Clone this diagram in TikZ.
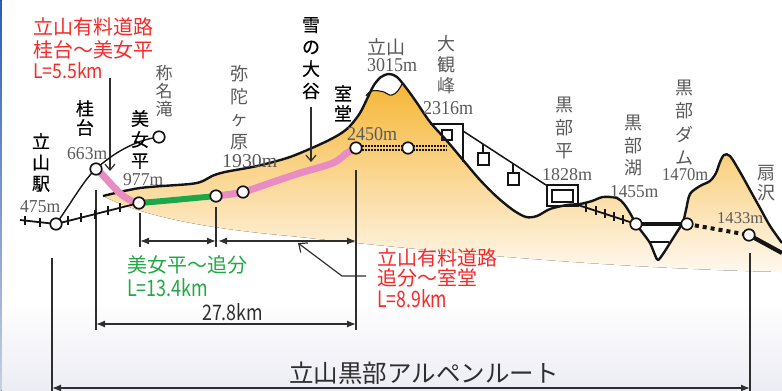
\documentclass[tikz,border=0pt]{standalone}
\usepackage{fontspec}
\setmainfont{Liberation Serif}
\newfontfamily\jp{Noto Sans CJK JP}
\newfontfamily\jpb{Noto Sans CJK JP}[FakeBold=0.35]
\usetikzlibrary{arrows.meta,calc}

\definecolor{inkred}{HTML}{F52A2A}
\definecolor{inkgreen}{HTML}{22A845}
\definecolor{roadgreen}{HTML}{1BA84A}
\definecolor{roadpink}{HTML}{E98CC2}
\definecolor{labgray}{HTML}{5A5A5A}
\definecolor{dimgray}{HTML}{2E2E2E}
\definecolor{ridgeblack}{HTML}{151515}
\definecolor{hilltop}{HTML}{F5B32C}
\definecolor{hillmid}{HTML}{FBDAA8}
\definecolor{hillbot}{HTML}{FFF8F0}
\definecolor{bgbot}{HTML}{ECECF4}
\definecolor{edgeblue}{HTML}{2A5CB8}
\definecolor{edgegray}{HTML}{C8D0E0}

% mountain ridge profile, west to east
\newcommand\ridge{plot[smooth,tension=0.5] coordinates {(103,196) (140,188) (190,184) (203,181) (212,176) (225,172) (257,166) (290,157) (323,143) (340,134) (350,126) (360,113) (367,99) (374,85) (381,77) (389,74) (397,77) (407,89) (417,103) (430,122) (447,141) (463,160) (480,180) (497,197) (513,210) (526,217) (537,216) (550,209) (567,205) (580,204) (592,201) (603,197) (617,198) (624,204) (630,213) (636,224) (642,232) (650,243) (655,255) (658,260) (663,254) (670,243) (677,232) (683,222) (686,210) (690,194) (700,186) (710,181) (716,173) (720,162) (724,155) (730,156) (740,172) (750,190) (760,208) (770,226) (782,243)}}

% elevation figure with fixed ink size: text, width, height
\newcommand\elv[3]{\resizebox{#2pt}{#3pt}{#1}}
% half-width Latin text in the gothic face: text, width, height
\newcommand\hw[3]{\resizebox{#2pt}{#3pt}{\jp #1}}

\begin{document}
\begin{tikzpicture}[x=1pt,y=-1pt,
  stn/.style={circle,draw=ridgeblack,fill=white,line width=1.7pt,minimum size=11.5pt,inner sep=0pt},
  elev/.style={anchor=north west,inner sep=0pt,text=labgray},
  blk/.style={font=\jpb\fontsize{18}{21}\selectfont,align=center,anchor=north,inner sep=0pt,text=black},
  gry/.style={font=\jp\fontsize{18}{22}\selectfont,align=center,anchor=north,inner sep=0pt,text=labgray},
  redtxt/.style={font=\jp\fontsize{20}{23}\selectfont,align=left,anchor=north west,inner sep=0pt,text=inkred},
  grntxt/.style={font=\jp\fontsize{20}{23}\selectfont,align=left,anchor=north west,inner sep=0pt,text=inkgreen},
  dim/.style={draw=dimgray,line width=1.3pt},
  dimarrow/.style={dim,{Latex[length=9pt,width=7pt]}-{Latex[length=9pt,width=7pt]}},
  pointer/.style={draw=dimgray,line width=1.2pt,-{Straight Barb[length=6pt,width=10pt]}},
  road/.style={draw=ridgeblack,line width=1.4pt},
  rail/.style={draw=ridgeblack,line width=1.8pt},
  pinkroad/.style={draw=roadpink,line width=7pt,line cap=round},
  greenroad/.style={draw=roadgreen,line width=6pt},
  bus/.style={draw=ridgeblack,line width=4.2pt},
  busdots/.style={draw=ridgeblack,line width=4pt,dash pattern=on 4pt off 4pt},
  tunneldots/.style={draw=ridgeblack,line width=1.7pt,dash pattern=on 1.6pt off 1.4pt},
  hut/.style={draw=ridgeblack,line width=2pt},
]
\useasboundingbox (0,0) rectangle (782,391);

% background
\fill[white] (0,0) rectangle (782,391);
\fill[top color=white,bottom color=bgbot] (0,300) rectangle (782,391);
\fill[top color=edgeblue,bottom color=edgegray] (0,0) rectangle (1.6,391);

% hill body
\fill[top color=hilltop,middle color=hillmid,bottom color=hillbot]
  \ridge -- (782,272) .. controls (600,268) and (420,250) .. (290,236)
  .. controls (200,228) and (140,215) .. (103,196) -- cycle;
% snow on the summit
\fill[white] (366,96) -- (374,84) -- (381,77) -- (389,74) -- (397,77) -- (402,84)
  .. controls (399,90) and (396,94) .. (392,95) .. controls (389,96) and (387,93) .. (384,92)
  .. controls (380,91) and (376,90) .. (372,91) -- cycle;
\draw[ridgeblack,line width=1.1pt] (366,96) .. controls (368,93) and (370,91) .. (372,91)
  .. controls (376,90) and (380,91) .. (384,92) .. controls (387,93) and (389,96) .. (392,95)
  .. controls (396,94) and (399,90) .. (402,84);
\draw[ridgeblack,line width=2.4pt,line join=round] \ridge;

% key points
\coordinate (pRailW) at (20,220);
\coordinate (pTateyama) at (56,224);
\coordinate (pKatsura) at (96,169);
\coordinate (pShomyo) at (159,137);
\coordinate (pBijo) at (139,203);
\coordinate (pOiwake) at (216,196);
\coordinate (pMida) at (243,192);
\coordinate (pMuro) at (356,148);
\coordinate (pTunnel) at (408,148);
\coordinate (pTunnelE) at (447,148);
\coordinate (pRopeA) at (463,131);
\coordinate (pRopeB) at (546,185);
\coordinate (pKbdStn) at (578,205);
\coordinate (pLake) at (636,224);
\coordinate (pDam) at (687,224);
\coordinate (pOgi) at (749,235);
\coordinate (pEast) at (782,253);

% Daikanbo station and ropeway
\draw[hut,line join=miter] (430,124) -- (463,124) -- (463,162);
\draw[hut,line width=1.6pt] (442,130) rectangle (452,140);
\draw[ridgeblack,line width=1.5pt] (pRopeA) -- (pRopeB);
\draw[ridgeblack,line width=1.4pt] ($(pRopeA)!0.24!(pRopeB)$) -- ++(0,10);
\draw[hut,line width=1.6pt] (478,153) rectangle (489,165);
\draw[ridgeblack,line width=1.4pt] ($(pRopeA)!0.6!(pRopeB)$) -- ++(0,9);
\draw[hut,line width=1.6pt] (508,173) rectangle (519,185);
% Kurobedaira station
\draw[hut] (547,185) rectangle (578,206);
\draw[hut,line width=1.6pt] (552,190) rectangle (573,202);

% dimension lines
\coordinate (dA0) at (52,258);   \coordinate (dA1) at (52,391);
\coordinate (dB0) at (96,190);   \coordinate (dB1) at (96,330);
\coordinate (dC0) at (140,213);  \coordinate (dC1) at (140,247);
\coordinate (dD0) at (216,207);  \coordinate (dD1) at (216,247);
\coordinate (dE0) at (356,170);  \coordinate (dE1) at (356,330);
\coordinate (dF0) at (750,253);  \coordinate (dF1) at (750,391);
\draw[dim] (dA0) -- (dA1);
\draw[dim] (dB0) -- (dB1);
\draw[dim] (dC0) -- (dC1);
\draw[dim] (dD0) -- (dD1);
\draw[dim] (dE0) -- (dE1);
\draw[dim] (dF0) -- (dF1);
\coordinate (aC) at (140,241); \coordinate (aD) at (216,241);
\coordinate (aD2) at (218,241); \coordinate (aE) at (356,241);
\coordinate (aB) at (96,324); \coordinate (aE2) at (356,324);
\coordinate (aA) at (52,388); \coordinate (aF) at (750,388);
\draw[dimarrow] (aC) -- (aD);
\draw[dimarrow] (aD2) -- (aE);
\draw[dimarrow] (aB) -- (aE2);
\draw[dimarrow] (aA) -- (aF);

% leader from the Oiwake–Murodo toll road label
\coordinate (lA) at (366,276);
\coordinate (lB) at (342,276);
\coordinate (lC) at (298,243);
\draw[dim,line width=1.2pt,-{Straight Barb[length=7pt,width=12pt]}] (lA) -- (lB) -- (lC);
% pointers
\coordinate (ptA0) at (110,78);  \coordinate (ptA1) at (110,171);
\coordinate (ptB0) at (311,107); \coordinate (ptB1) at (311,162);
\draw[pointer] (ptA0) -- (ptA1);
\draw[pointer] (ptB0) -- (ptB1);

% roads
\draw[road] (pTateyama) .. controls (70,205) and (85,178) .. (pKatsura);
\draw[road] (pKatsura) .. controls (112,154) and (135,140) .. (pShomyo);
\draw[pinkroad] (pKatsura) .. controls (110,180) and (120,200) .. (pBijo);
\draw[pinkroad] plot[smooth,tension=0.5] coordinates {(pOiwake) (pMida) (273,182) (300,173) (333,163) (347,153) (pMuro)};
\draw[greenroad] (pBijo) .. controls (165,201) and (195,198) .. (pOiwake);

% railway and cable cars
\draw[rail] (pRailW) -- (pTateyama) -- (pBijo);
\foreach \t in {0.14,0.56}
  \draw[rail] ($(pRailW)!\t!(pTateyama)$) +(0,-4.5) -- +(0,4.5);
\foreach \t in {0.145,0.30,0.47,0.627,0.771}
  \draw[rail] ($(pTateyama)!\t!(pBijo)$) +(0,-4.5) -- +(0,4.5);
\draw[rail] (pKbdStn) -- (pLake);
\foreach \t in {0.14,0.31,0.47,0.62,0.78}
  \draw[rail] ($(pKbdStn)!\t!(pLake)$) +(0,-4.5) -- +(0,4.5);

% trolley bus tunnels
\draw[tunneldots] ([yshift=2pt]pMuro) -- ([yshift=2pt]pTunnelE);
\draw[tunneldots] ([yshift=-2pt]pMuro) -- ([yshift=-2pt]pTunnelE);
\draw[bus] (pLake) -- (pDam);
\draw[ridgeblack,line width=2pt] (650,242) -- (669,242);
\draw[busdots] (pDam) -- (pOgi);
\draw[bus] (pOgi) -- (pEast);

% stations
\node[stn] (cTateyama) at (pTateyama) {};
\node[stn] (cKatsura) at (pKatsura) {};
\node[stn] (cShomyo) at (pShomyo) {};
\node[stn] (cBijo) at (pBijo) {};
\node[stn] (cOiwake) at (pOiwake) {};
\node[stn] (cMida) at (pMida) {};
\node[stn] (cMuro) at (pMuro) {};
\node[stn] (cTunnel) at (pTunnel) {};
\node[stn] (cLake) at (pLake) {};
\node[stn] (cDam) at (pDam) {};
\node[stn] (cOgi) at (pOgi) {};

% place names
\node[blk] (nTateyamaSt) at (41,133) {立\\山\\駅};
\node[blk,font=\jpb\fontsize{18}{19}\selectfont] (nKatsura) at (85,100) {桂\\台};
\node[blk] (nBijo) at (140,110) {美\\女\\平};
\node[gry,font=\jp\fontsize{17}{18}\selectfont] (nShomyo) at (164,65) {称\\名\\滝};
\node[gry,font=\jp\fontsize{18}{22.7}\selectfont] (nMida) at (239,65) {弥\\陀\\ヶ\\原};
\node[blk,font=\jpb\fontsize{18}{22}\selectfont] (nYuki) at (311,17) {雪\\の\\大\\谷};
\node[blk,font=\jpb\fontsize{18}{20}\selectfont] (nMuro) at (343,85) {室\\堂};
\node[gry,font=\jp\fontsize{19}{22}\selectfont] (nTateyama) at (386,38) {立山};
\node[gry,font=\jp\fontsize{18}{21}\selectfont] (nDaikan) at (446,35) {大\\観\\峰};
\node[gry,font=\jp\fontsize{18}{23}\selectfont] (nKbdaira) at (564,97) {黒\\部\\平};
\node[gry,font=\jp\fontsize{18}{22.5}\selectfont] (nKbko) at (633,115) {黒\\部\\湖};
\node[gry,font=\jp\fontsize{18}{23.3}\selectfont] (nKbdam) at (684,80) {黒\\部\\ダ\\ム};
\node[gry,font=\jp\fontsize{18}{20}\selectfont] (nOgi) at (766,165) {扇\\沢};

% elevations
\node[elev] (e475) at (20,200) {\elv{475m}{40}{12}};
\node[elev] (e663) at (67,147) {\elv{663m}{40}{12}};
\node[elev] (e977) at (123,173) {\elv{977m}{40}{12}};
\node[elev] (e1930) at (222,154) {\elv{1930m}{55}{13}};
\node[elev] (e2450) at (347,127) {\elv{2450m}{50}{13}};
\node[elev] (e3015) at (367,58) {\elv{3015m}{50}{13}};
\node[elev] (e2316) at (423,101) {\elv{2316m}{50}{13}};
\node[elev] (e1828) at (542,168) {\elv{1828m}{50}{12}};
\node[elev] (e1455) at (610,185) {\elv{1455m}{48}{12}};
\node[elev] (e1470) at (662,168) {\elv{1470m}{46}{12}};
\node[elev] (e1433) at (717,212) {\elv{1433m}{46}{11}};

% toll road and distance labels
\node[redtxt] (tTollA) at (33,17) {立山有料道路\\桂台～美女平};
\node[redtxt] (tTollAL) at (33,62) {\hw{L=5.5km}{70}{16}};
\node[grntxt] (tGreen) at (127,255) {美女平～追分};
\node[grntxt] (tGreenL) at (127,278) {\hw{L=13.4km}{81}{18}};
\node[redtxt,font=\jp\fontsize{20}{20.5}\selectfont] (tTollB) at (377,248) {立山有料道路\\追分～室堂};
\node[redtxt] (tTollBL) at (377,289) {\hw{L=8.9km}{70}{18}};
\node[anchor=north west,inner sep=0pt,text=dimgray] (tTotal) at (202,303) {\hw{27.8km}{61}{17}};
\node[font=\jp\fontsize{24.5}{26}\selectfont,text=dimgray,inner sep=0pt] (tRoute) at (424,373) {立山黒部アルペンルート};
\end{tikzpicture}
\end{document}
